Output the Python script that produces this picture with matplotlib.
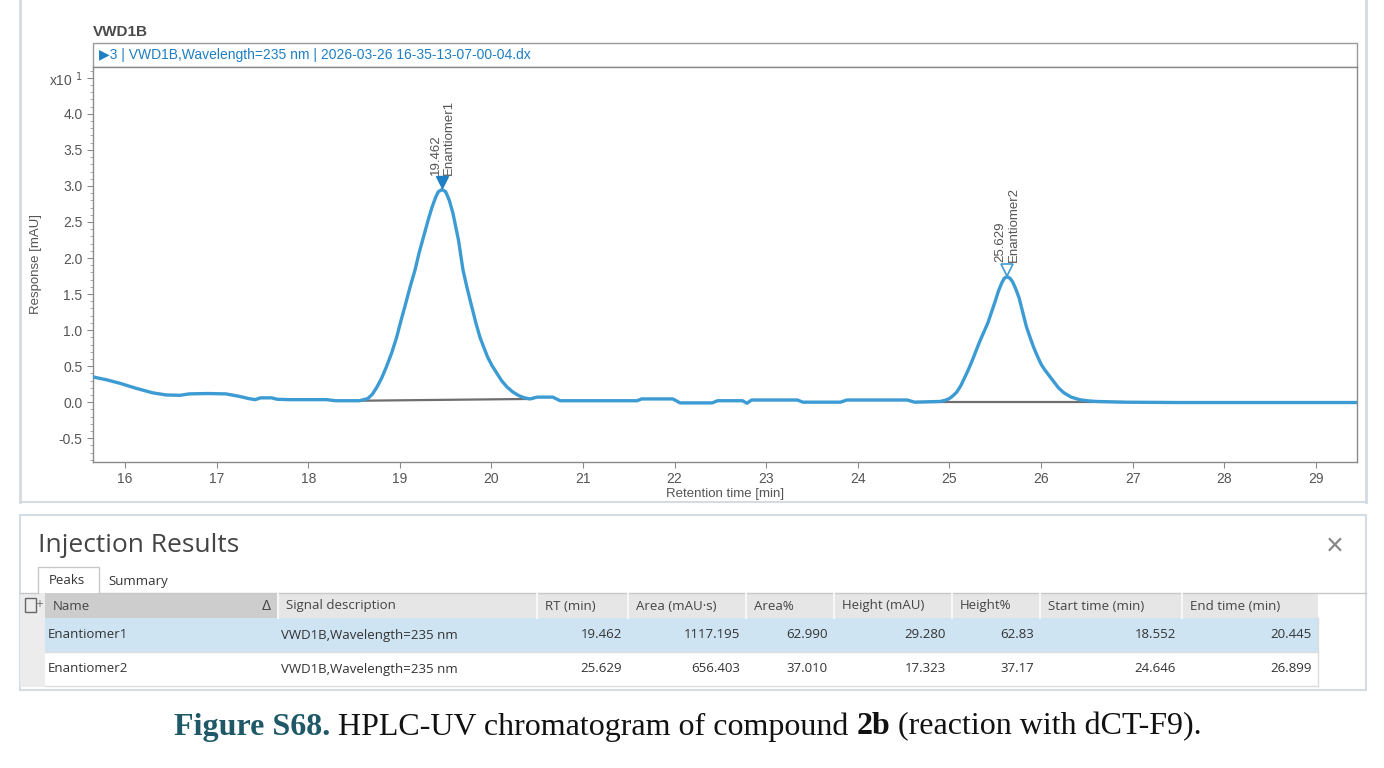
import matplotlib.pyplot as plt
import numpy as np
from matplotlib.patches import Rectangle

# chromatogram trace (response in x10 mAU)
time = [15.65, 15.80, 15.95, 16.10, 16.30, 16.45, 16.60, 16.70, 16.90, 17.10,
        17.25, 17.35, 17.42, 17.48, 17.60, 17.66, 17.80, 18.00, 18.20, 18.30,
        18.56, 18.65, 18.70, 18.75, 18.80, 18.85, 18.91, 18.965, 19.01, 19.06,
        19.11, 19.165, 19.21, 19.26, 19.31, 19.35, 19.39, 19.42, 19.46, 19.50,
        19.54, 19.58, 19.64, 19.69, 19.735, 19.78, 19.83, 19.875, 19.92, 19.96,
        20.01, 20.06, 20.11, 20.17, 20.235, 20.30, 20.36, 20.42, 20.50, 20.67,
        20.75, 21.59, 21.64, 21.98, 22.06, 22.41, 22.47, 22.74, 22.79, 22.84,
        23.34, 23.40, 23.81, 23.88, 24.54, 24.62, 24.90, 24.95, 25.00, 25.04,
        25.08, 25.125, 25.17, 25.21, 25.25, 25.29, 25.33, 25.375, 25.42, 25.46,
        25.50, 25.535, 25.57, 25.60, 25.63, 25.66, 25.69, 25.725, 25.76, 25.80,
        25.84, 25.88, 25.92, 25.96, 26.00, 26.035, 26.07, 26.10, 26.13, 26.19,
        26.25, 26.33, 26.42, 26.50, 26.60, 26.90, 27.50, 28.50, 29.45]
response = [0.35, 0.31, 0.26, 0.20, 0.13, 0.10, 0.095, 0.115, 0.12, 0.115,
            0.08, 0.05, 0.035, 0.06, 0.06, 0.04, 0.035, 0.035, 0.035, 0.02,
            0.02, 0.05, 0.11, 0.21, 0.33, 0.48, 0.68, 0.90, 1.12, 1.35,
            1.59, 1.83, 2.07, 2.30, 2.53, 2.70, 2.84, 2.92, 2.95, 2.92,
            2.80, 2.62, 2.25, 1.83, 1.58, 1.35, 1.10, 0.90, 0.75, 0.62,
            0.50, 0.40, 0.30, 0.21, 0.14, 0.09, 0.06, 0.045, 0.07, 0.07,
            0.02, 0.02, 0.045, 0.045, -0.01, -0.01, 0.02, 0.02, -0.015, 0.03,
            0.03, 0.0, 0.0, 0.03, 0.03, 0.0, 0.01, 0.025, 0.05, 0.09,
            0.14, 0.23, 0.35, 0.46, 0.58, 0.71, 0.84, 0.97, 1.10, 1.25,
            1.40, 1.54, 1.65, 1.72, 1.74, 1.72, 1.67, 1.57, 1.45, 1.25,
            1.05, 0.90, 0.76, 0.64, 0.53, 0.46, 0.40, 0.35, 0.30, 0.20,
            0.13, 0.07, 0.035, 0.02, 0.01, 0.0, -0.005, -0.005, -0.005]

# peak table
names = ['Enantiomer1', 'Enantiomer2']
signal = ['VWD1B,Wavelength=235 nm', 'VWD1B,Wavelength=235 nm']
rt = [19.462, 25.629]
area = [1117.195, 656.403]
area_pct = [62.990, 37.010]
height = [29.280, 17.323]
height_pct = [62.83, 37.17]
start_time = [18.552, 24.646]
end_time = [20.445, 26.899]
base_start = [0.02, 0.0]
base_end = [0.045, 0.0]

headers = ['Name', 'Signal description', 'RT (min)', 'Area (mAU\u00b7s)', 'Area%',
           'Height (mAU)', 'Height%', 'Start time (min)', 'End time (min)']

arial = ['Liberation Sans', 'DejaVu Sans']
ui = ['Open Sans', 'DejaVu Sans']

fig = plt.figure(figsize=(13.84, 7.68), dpi=100)

# background layer in pixel units for the software frame
bg = fig.add_axes([0, 0, 1, 1])
bg.set_xlim(0, 1384)
bg.set_ylim(768, 0)
bg.axis('off')

frame = '#d3dbe3'
bg.plot([20, 20], [0, 502], color=frame, lw=2)
bg.plot([1366, 1366], [0, 502], color=frame, lw=2)
bg.plot([20, 1366], [502, 502], color=frame, lw=1.5)
bg.add_patch(Rectangle((20, 515), 1346, 175, fill=False, ec=frame, lw=1.5))

bg.text(93, 32, 'VWD1B', fontsize=11, fontweight='bold', color='#4a4a4a',
        va='center', family=arial)
bg.add_patch(Rectangle((93, 43), 1264, 24, fill=False, ec='#9a9a9a', lw=1))
bg.text(99, 55, '\u25b63 | VWD1B,Wavelength=235 nm | 2026-03-26 16-35-13-07-00-04.dx',
        fontsize=10, color='#1f7fc4', va='center', family=arial)

# chromatogram
ax = fig.add_axes([93 / 1384, (768 - 462) / 768, 1264 / 1384, 395 / 768])
ax.plot(time, response, color='#3d9bd3', lw=2.4, solid_joinstyle='round', zorder=3)
for i in range(len(rt)):
    ax.plot([start_time[i], end_time[i]], [base_start[i], base_end[i]],
            color='#6e6e6e', lw=1.6, zorder=2)

t_arr = np.array(time)
r_arr = np.array(response)
for i in range(len(rt)):
    win = (t_arr > rt[i] - 0.2) & (t_arr < rt[i] + 0.2)
    top = r_arr[win].max()
    if i == 0:
        ax.plot(rt[i], top + 0.1, marker='v', ms=8, color='#1f7fc4', zorder=4)
    else:
        ax.plot(rt[i], top + 0.1, marker='v', ms=8, mfc='white', mec='#3d9bd3',
                mew=1.2, zorder=4)
    ax.text(rt[i], top + 0.2, f'{rt[i]:.3f}\n{names[i]}', rotation=90,
            ha='center', va='bottom', multialignment='left', fontsize=9.5,
            color='#555555', family=arial, linespacing=1.1)

ax.set_xlim(15.65, 29.45)
ax.set_ylim(-0.83, 4.65)
ax.set_xticks(range(16, 30))
yt = np.arange(-0.5, 4.51, 0.5)
ax.set_yticks(yt)
ax.set_yticklabels([f'{v:.1f}' for v in yt[:-1]] + ['x10 $^{1}$'])
ax.set_yticks(np.arange(-0.8, 4.65, 0.1), minor=True)
ax.tick_params(axis='both', colors='#8a8a8a', labelcolor='#555555', labelsize=10,
               length=4, width=0.8)
ax.tick_params(axis='y', which='minor', length=2.5, colors='#9a9a9a')
for lab in ax.get_xticklabels() + ax.get_yticklabels():
    lab.set_family(arial)
for s in ax.spines.values():
    s.set_color('#8a8a8a')
    s.set_linewidth(1)
ax.set_xlabel('Retention time [min]', fontsize=9.5, color='#555555', family=arial,
              labelpad=1)
ax.set_ylabel('Response [mAU]', fontsize=9.5, color='#555555', family=arial,
              labelpad=5)

# injection results panel
bg.text(38, 546, 'Injection Results', fontsize=19, color='#444444', va='center',
        family=ui)
bg.text(1335, 547, '\u00d7', fontsize=22, color='#888888', va='center', ha='center',
        family=arial)
bg.plot([38, 38, 99, 99], [593, 567, 567, 593], color='#c8c8c8', lw=1)
bg.plot([20, 38], [593, 593], color='#c8c8c8', lw=1)
bg.plot([99, 1366], [593, 593], color='#c8c8c8', lw=1)
bg.text(49, 580, 'Peaks', fontsize=9.5, color='#333333', va='center', family=ui)
bg.text(108, 581, 'Summary', fontsize=9.5, color='#333333', va='center', family=ui)

cols = [45, 278, 537, 628, 746, 834, 952, 1040, 1182, 1318]
bg.add_patch(Rectangle((20, 593), 25, 94, color='#ececec', lw=0))
bg.add_patch(Rectangle((45, 593), cols[-1] - 45, 25, color='#e6e6e6', lw=0))
bg.add_patch(Rectangle((45, 593), cols[1] - 45, 25, color='#cdcdcd', lw=0))
bg.add_patch(Rectangle((25, 598), 11, 14, fill=False, ec='#666666', lw=1))
bg.text(35, 604, '+', fontsize=7, color='#666666', va='center')
for c in cols[1:-1]:
    bg.plot([c, c], [593, 618], color='#f7f7f7', lw=1.5)
for j, h in enumerate(headers):
    bg.text(cols[j] + 8, 606, h, fontsize=9.5, color='#444444', va='center', family=ui)
bg.text(266, 606, '\u0394', fontsize=10, color='#444444', va='center', ha='center',
        family=arial)

row_y = [618, 652]
row_bg = ['#cfe4f2', 'white']
for i in range(len(names)):
    y0 = row_y[i]
    bg.add_patch(Rectangle((45, y0), cols[-1] - 45, 34, color=row_bg[i], lw=0))
    bg.plot([45, cols[-1]], [y0 + 34, y0 + 34], color='#dcdcdc', lw=1)
    yc = y0 + 17
    bg.text(cols[0] + 3, yc, names[i], fontsize=9.5, color='#333333', va='center', family=ui)
    bg.text(cols[1] + 3, yc, signal[i], fontsize=9.5, color='#333333', va='center', family=ui)
    vals = [f'{rt[i]:.3f}', f'{area[i]:.3f}', f'{area_pct[i]:.3f}', f'{height[i]:.3f}',
            f'{height_pct[i]:.2f}', f'{start_time[i]:.3f}', f'{end_time[i]:.3f}']
    for k, v in enumerate(vals):
        bg.text(cols[k + 3] - 6, yc, v, fontsize=9.5, color='#333333', va='center',
                ha='right', family=ui)
bg.plot([cols[-1], cols[-1]], [618, 686], color='#dcdcdc', lw=1)

# caption
cap = bg.text(174, 727, 'Figure S68.', fontsize=23, fontweight='bold', color='#1f5968',
              va='center', family=['Liberation Serif'])
cap2 = bg.annotate(' HPLC-UV chromatogram of compound ', xy=(1, 0), xycoords=cap,
                   va='bottom', fontsize=23, color='#111111', family=['Liberation Serif'])
cap3 = bg.annotate('2b', xy=(1, 0), xycoords=cap2, va='bottom', fontsize=23,
                   fontweight='bold', color='#111111', family=['Liberation Serif'])
bg.annotate(' (reaction with dCT-F9).', xy=(1, 0), xycoords=cap3, va='bottom',
            fontsize=23, color='#111111', family=['Liberation Serif'])

fig.savefig('out.png', dpi=100)
